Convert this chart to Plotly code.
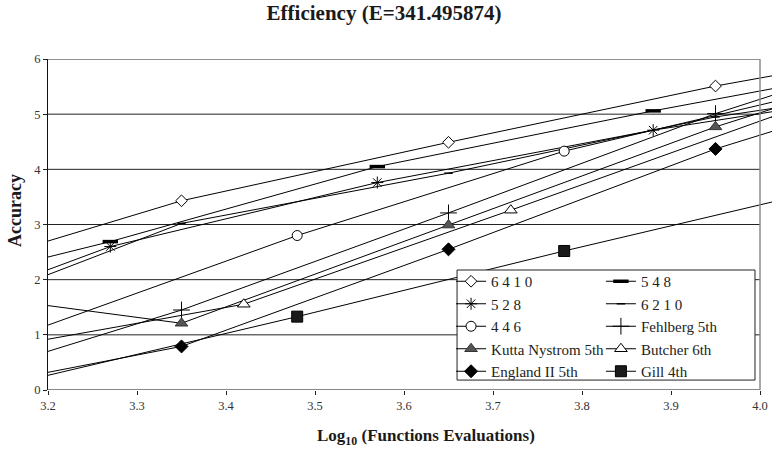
import plotly.graph_objects as go

# ---- data ----
names = ["6 4 1 0", "5 4 8", "5 2 8", "6 2 1 0", "4 4 6",
         "Fehlberg 5th", "Kutta Nystrom 5th", "Butcher 6th", "England II 5th", "Gill 4th"]

x_6410 = [3.05, 3.35, 3.65, 3.95, 4.25]
y_6410 = [1.97, 3.43, 4.49, 5.51, 6.38]
x_548 = [2.97, 3.27, 3.57, 3.88, 4.18]
y_548 = [1.49, 2.69, 4.05, 5.06, 5.96]
x_528 = [2.97, 3.27, 3.57, 3.88, 4.18]
y_528 = [0.80, 2.60, 3.76, 4.71, 5.46]
x_6210 = [3.05, 3.35, 3.65, 3.95, 4.25]
y_6210 = [1.16, 3.02, 3.93, 4.95, 5.67]
x_446 = [3.18, 3.48, 3.78, 4.08]
y_446 = [1.06, 2.80, 4.33, 5.47]
x_fehl = [3.05, 3.35, 3.65, 3.95, 4.25]
y_fehl = [-0.05, 1.45, 3.21, 5.01, 6.57]
x_kutta = [3.05, 3.35, 3.65, 3.95, 4.25]
y_kutta = [1.85, 1.21, 2.99, 4.77, 6.30]
x_butcher = [3.12, 3.42, 3.72, 4.02]
y_butcher = [0.69, 1.555, 3.26, 4.99]
x_england = [3.05, 3.35, 3.65, 3.95, 4.25]
y_england = [-0.15, 0.79, 2.55, 4.37, 5.87]
x_gill = [3.18, 3.48, 3.78, 4.08]
y_gill = [0.19, 1.33, 2.52, 3.66]

x_ticks = [3.2, 3.3, 3.4, 3.5, 3.6, 3.7, 3.8, 3.9, 4.0]
y_ticks = [0, 1, 2, 3, 4, 5, 6]

series_x = [x_6410, x_548, x_528, x_6210, x_446, x_fehl, x_kutta, x_butcher, x_england, x_gill]
series_y = [y_6410, y_548, y_528, y_6210, y_446, y_fehl, y_kutta, y_butcher, y_england, y_gill]

# ---- styles ----
markers = [
    dict(symbol="diamond", size=9, color="white", line=dict(color="black", width=1)),
    dict(symbol="line-ew", size=11, color="black", line=dict(color="black", width=3.5)),
    dict(symbol="asterisk-open", size=10, color="black", line=dict(color="black", width=1)),
    dict(symbol="line-ew", size=6, color="black", line=dict(color="black", width=1.5)),
    dict(symbol="circle", size=10, color="white", line=dict(color="black", width=1)),
    dict(symbol="cross-thin-open", size=12, color="black", line=dict(color="black", width=1)),
    dict(symbol="triangle-up", size=11, color="#555555", line=dict(color="#333333", width=1)),
    dict(symbol="triangle-up", size=11, color="white", line=dict(color="black", width=1)),
    dict(symbol="diamond", size=10, color="black", line=dict(color="black", width=1)),
    dict(symbol="square", size=11, color="#1a1a1a", line=dict(color="black", width=1)),
]

serif = "Liberation Serif"

fig = go.Figure()
for i, (nm, xs, ys) in enumerate(zip(names, series_x, series_y)):
    fig.add_trace(go.Scatter(
        x=xs, y=ys, name=nm, mode="lines+markers",
        line=dict(color="black", width=1),
        marker=markers[i],
        legend="legend" if i % 2 == 0 else "legend2",
    ))

shapes = []
x_lo, x_hi = x_ticks[0], x_ticks[-1]
for v in y_ticks[1:]:
    shapes.append(dict(type="line", xref="x", yref="y", x0=x_lo, x1=x_hi, y0=v, y1=v,
                       line=dict(color="#222222", width=1), layer="below"))
shapes.append(dict(type="line", xref="x", yref="y", x0=x_lo, x1=x_hi, y0=y_ticks[0], y1=y_ticks[0],
                   line=dict(color="#111111", width=1), layer="above"))
shapes.append(dict(type="line", xref="x", yref="y", x0=x_hi, x1=x_hi, y0=y_ticks[0], y1=y_ticks[-1],
                   line=dict(color="#8c8c8c", width=1.5), layer="above"))
# legend box
shapes.append(dict(type="rect", xref="paper", yref="paper", x0=0.565, x1=0.9765, y0=0.030, y1=0.3625,
                   fillcolor="white", line=dict(color="#222222", width=1), layer="above"))

fig.update_layout(
    width=772, height=450,
    margin=dict(l=48, r=0, t=59, b=60),
    paper_bgcolor="white", plot_bgcolor="white",
    font=dict(family=serif, color="#222222"),
    title=dict(text="<b>Efficiency (E=341.495874)</b>", x=384/772, xanchor="center",
               y=1 - 13/450, yanchor="middle", font=dict(family=serif, size=21, color="#1a1a1a")),
    xaxis=dict(range=[3.2, 3.2 + 724/890], tickvals=x_ticks, ticktext=[f"{t:.1f}" for t in x_ticks],
               showgrid=False, zeroline=False, showline=False,
               ticks="outside", ticklen=4, tickcolor="#222222",
               tickfont=dict(family=serif, size=12.5, color="#333333")),
    yaxis=dict(range=[0, 6], tickvals=y_ticks, showgrid=False, zeroline=False,
               showline=True, linecolor="#111111", linewidth=1,
               ticks="outside", ticklen=4, tickcolor="#222222",
               tickfont=dict(family=serif, size=12.5, color="#333333")),
    showlegend=True,
    legend=dict(x=0.5567, y=0.3776, xanchor="left", yanchor="top", bgcolor="rgba(0,0,0,0)",
                borderwidth=0, font=dict(family=serif, size=15, color="#222222"),
                itemwidth=30, tracegroupgap=0),
    legend2=dict(x=0.7637, y=0.3776, xanchor="left", yanchor="top", bgcolor="rgba(0,0,0,0)",
                 borderwidth=0, font=dict(family=serif, size=15, color="#222222"),
                 itemwidth=30, tracegroupgap=0),
    shapes=shapes,
    annotations=[
        dict(text="<b>Accuracy</b>", xref="paper", yref="paper", x=(15 - 48)/724, y=1 - (211 - 59)/331,
             xanchor="center", yanchor="middle", textangle=-90, showarrow=False,
             font=dict(family=serif, size=18, color="#1a1a1a")),
        dict(text="<b>Log<sub>10</sub> (Functions Evaluations)</b>", xref="paper", yref="paper",
             x=(426 - 48)/724, y=-(437 - 390)/331, xanchor="center", yanchor="middle",
             showarrow=False, font=dict(family=serif, size=17, color="#1a1a1a")),
    ],
)

fig.write_html("out.html")
